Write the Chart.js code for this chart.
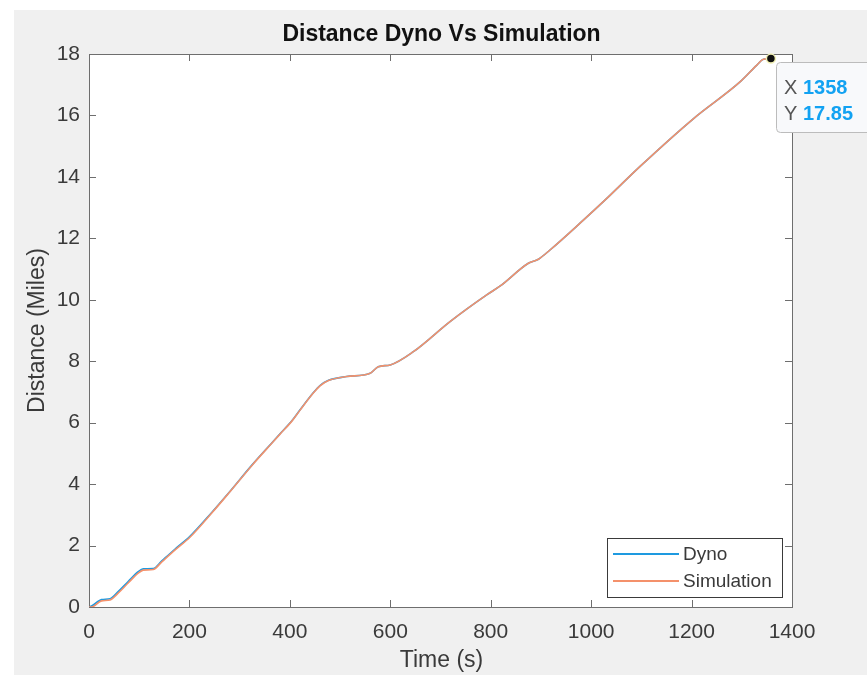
<!DOCTYPE html>
<html lang="en">
<head>
<meta charset="UTF-8">
<title>Distance Dyno Vs Simulation</title>
<script src="https://cdn.jsdelivr.net/npm/chart.js"></script>
<style>
body {
    margin: 0;
    background-color: #fff;
}

.figure {
    position: absolute;
    left: 14px;
    top: 10px;
    width: 853px;
    height: 665px;
    background-color: #f0f0f0;
}
</style>
</head>
<body>
<div class="figure">
    <canvas id="distChart" width="853" height="665"></canvas>
</div>

<script>
// Time (s) and cumulative distance (miles) for the two runs
const times = [0, 5, 25, 42, 58, 78, 98, 108, 128, 145, 171, 201, 244, 278, 324, 364, 380, 404, 420, 445, 460,
    477, 513, 560, 576, 600, 646, 719, 792, 819, 875, 895, 918, 985, 1028, 1098, 1204, 1297, 1330, 1343, 1358];
const dynoMiles = [0, 0.03, 0.24, 0.27, 0.5, 0.83, 1.15, 1.24, 1.25, 1.5, 1.88, 2.3, 3.07, 3.71, 4.61, 5.34, 5.63, 6.06, 6.41, 6.94, 7.21,
    7.38, 7.5, 7.61, 7.82, 7.88, 8.31, 9.29, 10.16, 10.45, 11.19, 11.32, 11.62, 12.6, 13.25, 14.35, 15.9, 17.1, 17.64, 17.83, 17.85];
const simMiles = [0, 0, 0.2, 0.23, 0.45, 0.78, 1.1, 1.2, 1.22, 1.47, 1.85, 2.27, 3.05, 3.7, 4.6, 5.33, 5.62, 6.05, 6.4, 6.93, 7.2,
    7.37, 7.5, 7.61, 7.82, 7.88, 8.31, 9.29, 10.16, 10.45, 11.19, 11.32, 11.62, 12.6, 13.25, 14.35, 15.9, 17.1, 17.64, 17.83, 17.85];

const seriesNames = ['Dyno', 'Simulation'];
const seriesColors = ['#1e9ae0', '#f4916b'];

// data tip shown on the last sample
const tipTime = 1358;
const tipMiles = 17.85;

const xMax = 1400, xStep = 200;
const yMax = 18, yStep = 2;

const textColor = '#3a3a3a';
const axisColor = '#6e6e6e';
const fontFamily = '"Liberation Sans", Arial, sans-serif';

function toPoints(xs, ys) {
    return xs.map((x, i) => ({ x: x, y: ys[i] }));
}

// white plot area, box outline and inward tick marks (MATLAB style)
const axesBox = {
    id: 'axesBox',
    beforeDatasetsDraw(chart) {
        const { ctx, chartArea: a, scales } = chart;
        ctx.save();
        ctx.strokeStyle = axisColor;
        ctx.lineWidth = 1;
        const tl = 7;
        ctx.beginPath();
        scales.x.ticks.forEach(t => {
            const px = Math.round(scales.x.getPixelForValue(t.value)) + 0.5;
            ctx.moveTo(px, a.bottom); ctx.lineTo(px, a.bottom - tl);
            ctx.moveTo(px, a.top); ctx.lineTo(px, a.top + tl);
        });
        scales.y.ticks.forEach(t => {
            const py = Math.round(scales.y.getPixelForValue(t.value)) + 0.5;
            ctx.moveTo(a.left, py); ctx.lineTo(a.left + tl, py);
            ctx.moveTo(a.right, py); ctx.lineTo(a.right - tl, py);
        });
        ctx.stroke();
        ctx.strokeRect(Math.round(a.left) + 0.5, Math.round(a.top) + 0.5,
            Math.round(a.right - a.left), Math.round(a.bottom - a.top));
        ctx.restore();
    },
    beforeDraw(chart) {
        const { ctx, chartArea: a } = chart;
        ctx.save();
        ctx.fillStyle = '#fff';
        ctx.fillRect(a.left, a.top, a.right - a.left, a.bottom - a.top);
        ctx.restore();
    }
};

// title, axis labels, legend and the data tip box
const annotations = {
    id: 'annotations',
    afterDraw(chart) {
        const { ctx, chartArea: a, scales } = chart;
        const cx = (a.left + a.right) / 2;
        ctx.save();
        ctx.fillStyle = '#111';
        ctx.textAlign = 'center';
        ctx.textBaseline = 'middle';
        ctx.font = 'bold 23px ' + fontFamily;
        ctx.fillText('Distance Dyno Vs Simulation', cx + 1, 25);

        ctx.fillStyle = textColor;
        ctx.font = '23px ' + fontFamily;
        ctx.fillText('Time (s)', cx + 1, 651);
        ctx.save();
        ctx.translate(24, (a.top + a.bottom) / 2);
        ctx.rotate(-Math.PI / 2);
        ctx.fillText('Distance (Miles)', 0, 0);
        ctx.restore();

        // legend
        const lx = 593, ly = 528, lw = 175, lh = 59;
        ctx.fillStyle = '#fff';
        ctx.fillRect(lx, ly, lw, lh);
        ctx.strokeStyle = '#3a3a3a';
        ctx.lineWidth = 1;
        ctx.strokeRect(lx + 0.5, ly + 0.5, lw, lh);
        ctx.font = '19px ' + fontFamily;
        ctx.textAlign = 'left';
        seriesNames.forEach((name, i) => {
            const y = ly + 16 + i * 27;
            ctx.strokeStyle = seriesColors[i];
            ctx.lineWidth = 2;
            ctx.beginPath();
            ctx.moveTo(lx + 6, y); ctx.lineTo(lx + 72, y);
            ctx.stroke();
            ctx.fillStyle = textColor;
            ctx.fillText(name, lx + 76, y + 1);
        });

        // data tip box
        const px = scales.x.getPixelForValue(tipTime);
        const bx = Math.round(px) + 5, by = 52, bw = 100, bh = 70, r = 4;
        ctx.fillStyle = '#f8f9fb';
        ctx.strokeStyle = '#bcbcbc';
        ctx.lineWidth = 1;
        ctx.beginPath();
        ctx.roundRect(bx + 0.5, by + 0.5, bw, bh, r);
        ctx.fill();
        ctx.stroke();
        ctx.font = '20px ' + fontFamily;
        ctx.fillStyle = '#555';
        ctx.fillText('X', bx + 8, by + 26);
        ctx.fillText('Y', bx + 8, by + 52);
        ctx.font = 'bold 20px ' + fontFamily;
        ctx.fillStyle = '#12a2f2';
        ctx.fillText(String(tipTime), bx + 27, by + 26);
        ctx.fillText(tipMiles.toFixed(2), bx + 27, by + 52);
        ctx.restore();
    }
};

const ctx = document.getElementById('distChart').getContext('2d');
const distChart = new Chart(ctx, {
    type: 'line',
    data: {
        datasets: [
            {
                label: seriesNames[0],
                data: toPoints(times, dynoMiles),
                borderColor: seriesColors[0],
                borderWidth: 1.6,
                pointRadius: 0,
                cubicInterpolationMode: 'monotone',
                order: 2
            },
            {
                label: seriesNames[1],
                data: toPoints(times, simMiles),
                borderColor: seriesColors[1],
                borderWidth: 1.6,
                pointRadius: 0,
                cubicInterpolationMode: 'monotone',
                order: 1
            },
            {
                label: 'tip',
                data: [{ x: tipTime, y: tipMiles }],
                showLine: false,
                pointRadius: 4.5,
                pointBackgroundColor: '#111',
                pointBorderColor: '#f1f0b4',
                pointBorderWidth: 1.5,
                clip: false,
                order: 0
            }
        ]
    },
    options: {
        responsive: false,
        devicePixelRatio: 1,
        animation: false,
        events: [],
        layout: {
            padding: { top: 44, right: 75, left: 0, bottom: 0 }
        },
        plugins: {
            legend: { display: false },
            title: { display: false },
            tooltip: { enabled: false }
        },
        scales: {
            x: {
                type: 'linear',
                min: 0,
                max: xMax,
                grid: { display: false, drawTicks: false },
                border: { display: false },
                ticks: {
                    stepSize: xStep,
                    color: textColor,
                    font: { family: fontFamily, size: 21 },
                    padding: 13,
                    maxRotation: 0,
                    callback: value => String(value)
                },
                afterFit(scale) { scale.height = 68; }
            },
            y: {
                min: 0,
                max: yMax,
                grid: { display: false, drawTicks: false },
                border: { display: false },
                ticks: {
                    stepSize: yStep,
                    color: textColor,
                    font: { family: fontFamily, size: 21 },
                    padding: 9,
                    callback: value => String(value)
                },
                afterFit(scale) { scale.width = 75; }
            }
        }
    },
    plugins: [axesBox, annotations]
});
</script>
</body>
</html>
